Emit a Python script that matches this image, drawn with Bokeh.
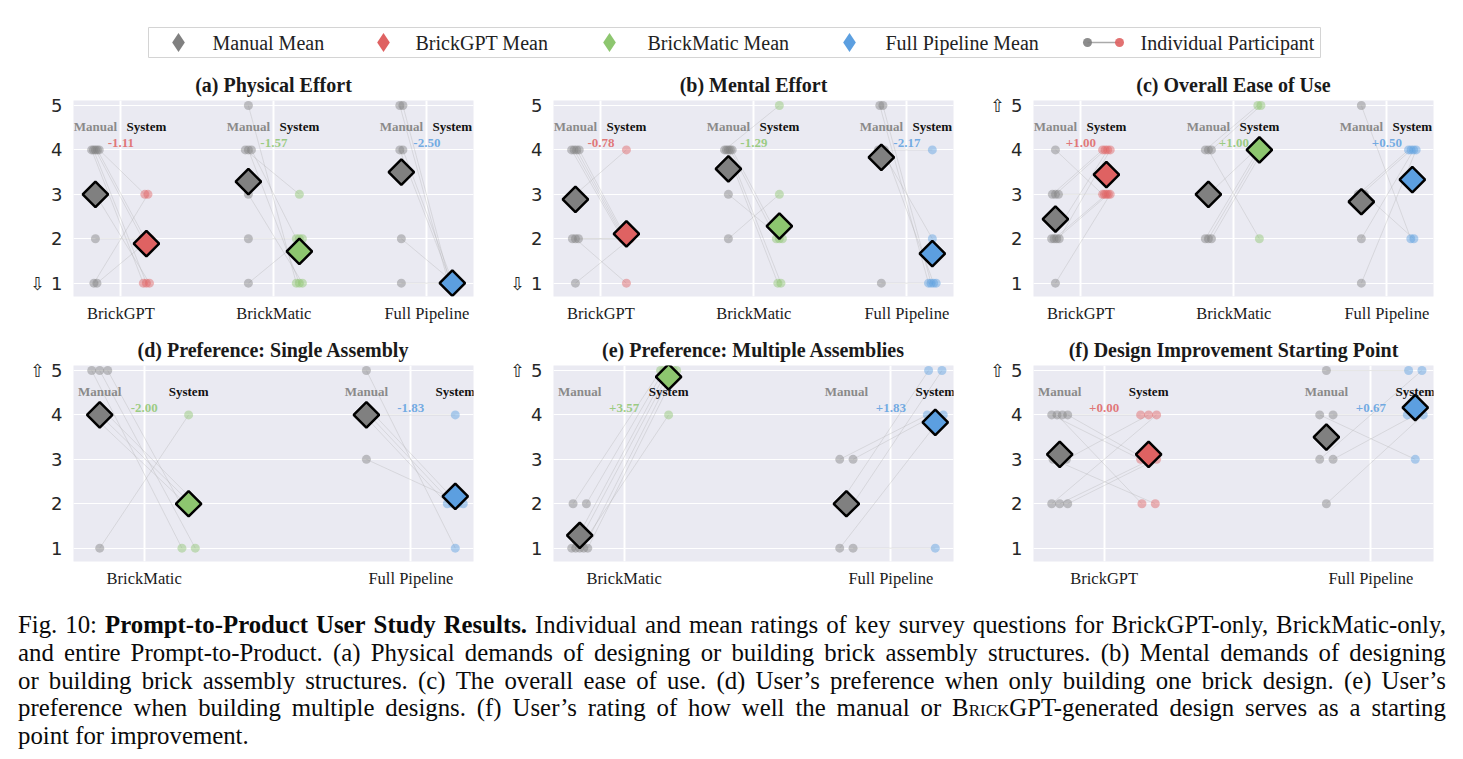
import numpy as np
from bokeh.plotting import figure
from bokeh.models import Range1d, FixedTicker, Div
from bokeh.layouts import column, row
from bokeh.embed import file_html
from bokeh.resources import INLINE
from bokeh.core.properties import value

SERIF = "Liberation Serif"
SANS = "DejaVu Sans"

# ---------------- data (ratings 1-5, one entry per participant, paired) ----------------
three_groups = ["BrickGPT", "BrickMatic", "Full Pipeline"]

# (a) Physical Effort
phys_brickgpt_manual   = [4, 4, 4, 4, 4, 3, 2, 1, 1]
phys_brickgpt_system   = [1, 1, 2, 2, 3, 1, 2, 3, 2]
phys_brickmatic_manual = [5, 4, 4, 4, 3, 2, 1]
phys_brickmatic_system = [1, 3, 1, 2, 1, 2, 2]
phys_full_manual       = [5, 5, 4, 4, 2, 1]
phys_full_system       = [1, 1, 1, 1, 1, 1]

# (b) Mental Effort
ment_brickgpt_manual   = [4, 4, 4, 4, 3, 2, 2, 2, 1]
ment_brickgpt_system   = [2, 2, 2, 2, 4, 2, 1, 2, 2]
ment_brickmatic_manual = [4, 4, 4, 4, 4, 3, 2]
ment_brickmatic_system = [5, 1, 1, 2, 2, 2, 3]
ment_full_manual       = [5, 5, 4, 4, 4, 1]
ment_full_system       = [1, 1, 4, 2, 1, 1]

# (c) Overall Ease of Use
ease_brickgpt_manual   = [4, 3, 3, 3, 2, 2, 2, 2, 1]
ease_brickgpt_system   = [3, 4, 4, 3, 4, 3, 3, 4, 3]
ease_brickmatic_manual = [4, 4, 4, 3, 2, 2, 2]
ease_brickmatic_system = [5, 2, 5, 4, 4, 4, 4]
ease_full_manual       = [5, 3, 3, 3, 2, 1]
ease_full_system       = [2, 4, 4, 2, 4, 4]

# (d) Preference: Single Assembly
single_groups = ["BrickMatic", "Full Pipeline"]
single_brickmatic_manual = [5, 5, 5, 4, 4, 4, 1]
single_brickmatic_system = [1, 1, 2, 2, 2, 2, 4]
single_full_manual       = [5, 4, 4, 4, 4, 3]
single_full_system       = [1, 4, 2, 2, 2, 2]

# (e) Preference: Multiple Assemblies
multi_groups = ["BrickMatic", "Full Pipeline"]
multi_brickmatic_manual = [2, 2, 1, 1, 1, 1, 1]
multi_brickmatic_system = [5, 5, 5, 5, 4, 5, 5]
multi_full_manual       = [3, 3, 2, 2, 1, 1]
multi_full_system       = [4, 4, 5, 5, 4, 1]

# (f) Design Improvement Starting Point
start_groups = ["BrickGPT", "Full Pipeline"]
start_brickgpt_manual = [4, 4, 4, 4, 3, 3, 2, 2, 2]
start_brickgpt_system = [3, 2, 4, 3, 2, 4, 4, 3, 3]
start_full_manual     = [5, 4, 4, 3, 3, 2]
start_full_system     = [5, 3, 4, 5, 4, 4]

y_ticks = [1, 2, 3, 4, 5]
legend_labels = ["Manual Mean", "BrickGPT Mean", "BrickMatic Mean", "Full Pipeline Mean", "Individual Participant"]

# ---------------- styles ----------------
MANUAL_COLOR = "#808080"
SYSTEM_COLORS = {"BrickGPT": "#DF6262", "BrickMatic": "#8DC66F", "Full Pipeline": "#5C9FE0"}
BG = "#EAEAF2"
OFF = 1.0 / 6.0


def jitter(vals, step, maxw):
    counts = {}
    for v in vals:
        counts[v] = counts.get(v, 0) + 1
    seen = {}
    out = []
    for v in vals:
        k = seen.get(v, 0)
        seen[v] = k + 1
        c = counts[v]
        if c == 1:
            out.append(0.0)
        else:
            w = min(step * (c - 1), maxw)
            out.append(-w / 2.0 + w * k / (c - 1))
    return np.array(out)


def make_panel(title, groups, manuals, systems, arrow):
    n = len(groups)
    if n == 3:
        xr = Range1d(-0.31, 2.305)
        step, maxw = 0.02, 0.05
    else:
        xr = Range1d(-0.265, 1.235)
        step, maxw = 0.05, 0.06
    p = figure(width=480, height=265, x_range=xr, y_range=Range1d(0.7, 5.113),
               output_backend="svg", toolbar_location=None,
               min_border_left=65, min_border_right=15, min_border_top=36, min_border_bottom=33)
    p.background_fill_color = BG
    p.border_fill_color = "white"
    p.outline_line_color = None

    p.title.text = title
    p.title.align = "center"
    p.title.text_font = SERIF
    p.title.text_font_style = "bold"
    p.title.text_font_size = "20px"
    p.title.text_color = "#1a1a1a"
    p.title.standoff = 9

    p.xaxis.ticker = FixedTicker(ticks=list(range(n)))
    p.xaxis.major_label_overrides = {i: g for i, g in enumerate(groups)}
    p.yaxis.ticker = FixedTicker(ticks=y_ticks)
    if arrow == "down":
        p.yaxis.major_label_overrides = {1: "\u21e9 1"}
    else:
        p.yaxis.major_label_overrides = {5: "\u21e7 5"}
    for ax in (p.xaxis, p.yaxis):
        ax.axis_line_color = None
        ax.major_tick_line_color = None
        ax.minor_tick_line_color = None
        ax.major_tick_out = 0
        ax.major_tick_in = 0
    p.xaxis.major_label_text_font = SERIF
    p.xaxis.major_label_text_font_size = "16.5px"
    p.xaxis.major_label_text_color = "#1a1a1a"
    p.xaxis.major_label_standoff = 7
    p.yaxis.major_label_text_font = SANS
    p.yaxis.major_label_text_font_size = "18px"
    p.yaxis.major_label_text_color = "#262626"
    p.yaxis.major_label_standoff = 11

    p.xgrid.ticker = FixedTicker(ticks=list(range(n)))
    p.xgrid.grid_line_color = "white"
    p.xgrid.grid_line_width = 2
    p.ygrid.ticker = FixedTicker(ticks=y_ticks)
    p.ygrid.grid_line_color = "white"
    p.ygrid.grid_line_width = 1.2

    for gi, (g, man, sysv) in enumerate(zip(groups, manuals, systems)):
        col = SYSTEM_COLORS[g]
        man = np.array(man, dtype=float)
        sysv = np.array(sysv, dtype=float)
        mx = gi - OFF + jitter(man, step, maxw)
        sx = gi + OFF + jitter(sysv, step, maxw)
        p.segment(x0=mx, y0=man, x1=sx, y1=sysv, line_color="#a8a8a8", line_alpha=0.3, line_width=1)
        p.scatter(mx, man, size=9, fill_color=MANUAL_COLOR, fill_alpha=0.45, line_color=None)
        p.scatter(sx, sysv, size=9, fill_color=col, fill_alpha=0.45, line_color=None)
        m_mean = man.mean()
        s_mean = sysv.mean()
        p.scatter([gi - OFF], [m_mean], marker="square", angle=np.pi / 4, size=18,
                  fill_color=MANUAL_COLOR, line_color="black", line_width=2.5)
        p.scatter([gi + OFF], [s_mean], marker="square", angle=np.pi / 4, size=18,
                  fill_color=col, line_color="black", line_width=2.5)
        p.text(x=[gi - OFF], y=[4.53], text=["Manual"], text_font=value(SERIF), text_font_style="bold",
               text_font_size="13px", text_color="#8a8a8a", text_align="center", text_baseline="middle")
        p.text(x=[gi + OFF], y=[4.53], text=["System"], text_font=value(SERIF), text_font_style="bold",
               text_font_size="13px", text_color="#111111", text_align="center", text_baseline="middle")
        delta = s_mean - m_mean
        p.text(x=[gi], y=[4.15], text=[f"{delta:+.2f}"], text_font=value(SERIF), text_font_style="bold",
               text_font_size="13px", text_color=col, text_alpha=0.85,
               text_align="center", text_baseline="middle")
    return p


pa = make_panel("(a) Physical Effort", three_groups,
                [phys_brickgpt_manual, phys_brickmatic_manual, phys_full_manual],
                [phys_brickgpt_system, phys_brickmatic_system, phys_full_system], "down")
pb = make_panel("(b) Mental Effort", three_groups,
                [ment_brickgpt_manual, ment_brickmatic_manual, ment_full_manual],
                [ment_brickgpt_system, ment_brickmatic_system, ment_full_system], "down")
pc = make_panel("(c) Overall Ease of Use", three_groups,
                [ease_brickgpt_manual, ease_brickmatic_manual, ease_full_manual],
                [ease_brickgpt_system, ease_brickmatic_system, ease_full_system], "up")
pd = make_panel("(d) Preference: Single Assembly", single_groups,
                [single_brickmatic_manual, single_full_manual],
                [single_brickmatic_system, single_full_system], "up")
pe = make_panel("(e) Preference: Multiple Assemblies", multi_groups,
                [multi_brickmatic_manual, multi_full_manual],
                [multi_brickmatic_system, multi_full_system], "up")
pf = make_panel("(f) Design Improvement Starting Point", start_groups,
                [start_brickgpt_manual, start_full_manual],
                [start_brickgpt_system, start_full_system], "up")

# ---------------- legend strip ----------------
LW, LH = 1440, 56
lg = figure(width=LW, height=LH, x_range=Range1d(0, LW), y_range=Range1d(LH, 0),
            output_backend="svg", toolbar_location=None, x_axis_location=None, y_axis_location=None,
            min_border=0)
lg.outline_line_color = None
lg.background_fill_color = "white"
lg.border_fill_color = "white"
lg.xgrid.visible = False
lg.ygrid.visible = False
lg.quad(left=[140], right=[1312], top=[19], bottom=[49], fill_color="white",
        line_color="#d4d4d4", line_width=1)
leg_colors = [MANUAL_COLOR, SYSTEM_COLORS["BrickGPT"], SYSTEM_COLORS["BrickMatic"], SYSTEM_COLORS["Full Pipeline"]]
mark_x = [170, 375, 601, 841]
text_x = [204, 407, 639, 877]
lg.scatter(mark_x, [34] * 4, marker="diamond", size=19, fill_color=leg_colors, line_color=None)
lg.line([1079, 1111], [34, 34], line_color="#aaaaaa", line_width=1.5)
lg.scatter([1079], [34], size=9, fill_color=MANUAL_COLOR, line_color=None, fill_alpha=0.9)
lg.scatter([1111], [34], size=9, fill_color=SYSTEM_COLORS["BrickGPT"], line_color=None, fill_alpha=0.9)
lg.text(x=text_x + [1132], y=[34] * 5, text=legend_labels, text_font=value(SERIF),
        text_font_size="20px", text_color="#222222", text_align="left", text_baseline="middle")

# ---------------- caption ----------------
def words(s):
    return "".join(f"<span>{w}</span>" for w in s.split(" "))

def bold_words(s):
    return "".join(f"<span style='font-weight:bold'>{w}</span>" for w in s.split(" "))

line_style = "display:flex;justify-content:space-between;white-space:nowrap;"
l1 = words("Fig. 10:") + bold_words("Prompt-to-Product User Study Results.") + \
    words("Individual and mean ratings of key survey questions for BrickGPT-only, BrickMatic-only,")
l2 = words("and entire Prompt-to-Product. (a) Physical demands of designing or building brick assembly structures. (b) Mental demands of designing")
l3 = words("or building brick assembly structures. (c) The overall ease of use. (d) User\u2019s preference when only building one brick design. (e) User\u2019s")
l4 = words("preference when building multiple designs. (f) User\u2019s rating of how well the manual or") + \
    "<span>B<span style='font-variant:small-caps'>rick</span>GPT-generated</span>" + \
    words("design serves as a starting")
l5 = "point for improvement."
caption_html = (
    f"<div style=\"font-family:'{SERIF}';font-size:24.8px;line-height:27.8px;color:#0a0a0a;width:1428px;\">"
    f"<div style='{line_style}'>{l1}</div>"
    f"<div style='{line_style}'>{l2}</div>"
    f"<div style='{line_style}'>{l3}</div>"
    f"<div style='{line_style}'>{l4}</div>"
    f"<div>{l5}</div>"
    "</div>"
)
caption = Div(text=caption_html, width=1430, height=145, margin=(17, 0, 0, 10))

layout = column(lg, row(pa, pb, pc), row(pd, pe, pf), caption, margin=(8, 0, 0, 8))
open("out.html", "w").write(file_html(layout, INLINE))
